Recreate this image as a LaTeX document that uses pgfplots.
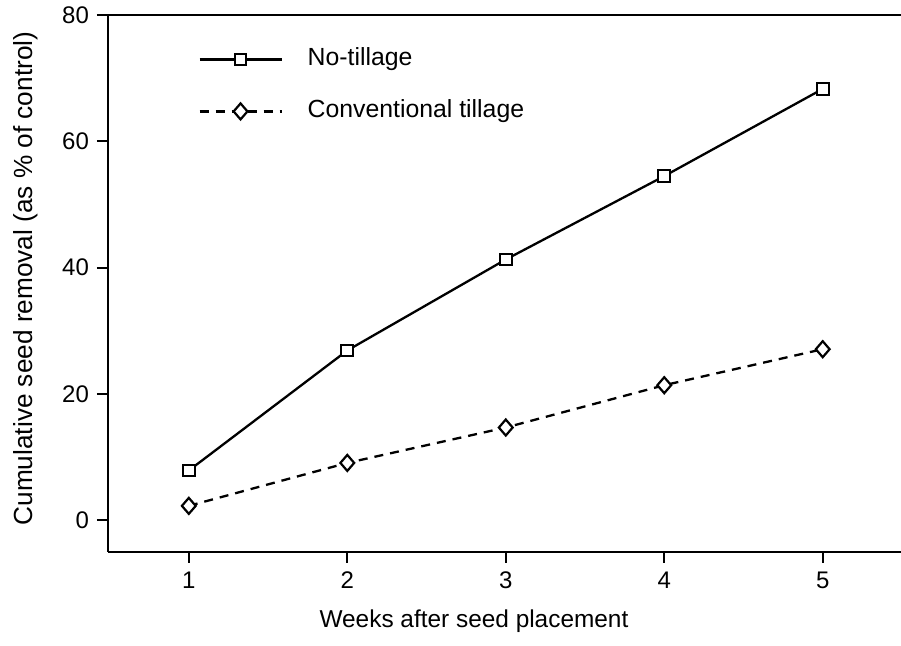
\documentclass[border=0pt]{standalone}
\usepackage{fontspec}
\setmainfont{Liberation Sans}
\usepackage{pgfplots}
\pgfplotsset{compat=1.18}
\begin{document}
\begin{tikzpicture}
\begin{axis}[
  at={(0,0)}, anchor=south west,
  scale only axis, width=396.5pt, height=268.5pt,
  xmin=0.49, xmax=5.494, ymin=-5, ymax=80,
  axis x line*=box, axis y line*=left,
  xtick pos=bottom, ytick pos=left,
  xtick={1,2,3,4,5}, ytick={0,20,40,60,80},
  tick align=outside, major tick length=5.5pt,
  axis line style={line width=1pt, black},
  tick style={line width=1pt, black},
  /pgf/number format/assume math mode=true,
  ticklabel style={font=\fontsize{12}{14}\selectfont},
  xticklabel style={anchor=base, inner sep=0pt, yshift=-13pt},
  yticklabel style={anchor=east, inner sep=0pt, xshift=-3.85pt},
  xlabel={Weeks after seed placement},
  ylabel={Cumulative seed removal (as \% of control)},
  xlabel style={at={(axis description cs:0.4615,-0.1415)}, anchor=base, inner sep=0pt, font=\fontsize{12.2}{14}\selectfont},
  ylabel style={at={(axis description cs:-0.0946,0.5093)}, anchor=base, inner sep=0pt, font=\fontsize{13.1}{15}\selectfont},
  legend style={at={(axis description cs:0.1135,0.9404)}, anchor=north west,
    draw=none, fill=none, inner sep=0pt, row sep=14pt, column sep=12.5pt,
    nodes={inner sep=0pt, text height=9pt, text depth=3pt, font=\fontsize{12.4}{14}\selectfont}},
  legend cell align=left,
  legend image code/.code={\draw[mark repeat=2,mark phase=2,#1] plot coordinates {(0pt,0pt)(20.5pt,0pt)(41pt,0pt)};},
]
\addplot[black, line width=1.15pt, mark=square*, mark size=2.9pt, mark options={fill=white, solid, line width=1pt}]
  coordinates {(1,7.9) (2,26.9) (3,41.3) (4,54.5) (5,68.3)};
\addlegendentry{No-tillage}
\addplot[black, line width=1.15pt, dash pattern=on 4.5pt off 3.5pt, mark=diamond*, mark size=4pt, mark options={fill=white, solid, xscale=1.15, line width=1.1pt}]
  coordinates {(1,2.3) (2,9.1) (3,14.7) (4,21.4) (5,27.1)};
\addlegendentry{Conventional tillage}
\end{axis}
\pgfresetboundingbox
\path[use as bounding box] (-54pt,-47pt) rectangle (396.5pt,276pt);
\end{tikzpicture}
\end{document}
